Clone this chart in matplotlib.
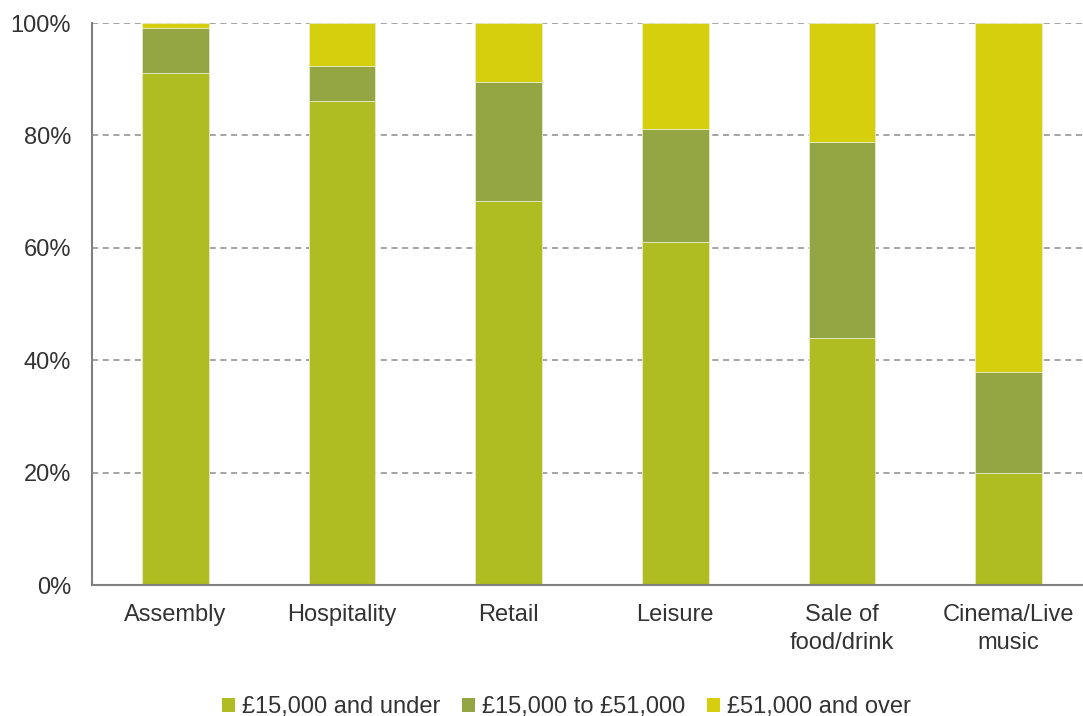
import matplotlib
matplotlib.use("Agg")
import matplotlib.pyplot as plt
from matplotlib.ticker import FuncFormatter
from matplotlib.patches import Patch
import numpy as np

categories = ["Assembly", "Hospitality", "Retail", "Leisure", "Sale of\nfood/drink", "Cinema/Live\nmusic"]
under_15k = [91.1, 86.1, 68.3, 61.0, 44.0, 19.9]
mid_15_51k = [8.0, 6.2, 21.2, 20.1, 34.8, 18.0]
over_51k = [100 - a - b for a, b in zip(under_15k, mid_15_51k)]
series_labels = ["£15,000 and under", "£15,000 to £51,000", "£51,000 and over"]
colors = ["#B0BD22", "#94A543", "#D5CF0D"]

plt.rcParams["font.family"] = ["Liberation Sans", "DejaVu Sans"]

fig = plt.figure(figsize=(10.83, 7.16), dpi=100)
ax = fig.add_axes([92 / 1083, 1 - 585 / 716, (1083 - 92) / 1083, (585 - 23) / 716])

x = np.arange(len(categories))
w = 0.40
bottom = np.zeros(len(categories))
for vals, c, lab in zip([under_15k, mid_15_51k, over_51k], colors, series_labels):
    ax.bar(x, vals, w, bottom=bottom, color=c, edgecolor="#E8EBC8", linewidth=0.6, label=lab, zorder=3)
    bottom += np.array(vals)

ax.set_xlim(-0.501, 5.447)
ax.set_ylim(0, 100)
ax.set_yticks(np.arange(0, 101, 20))
ax.yaxis.set_major_formatter(FuncFormatter(lambda v, p: f"{int(v)}%"))
ax.set_xticks(x)
ax.set_xticklabels(categories, linespacing=1.35)
ax.tick_params(axis="both", length=0, labelsize=17, colors="#333333")
ax.tick_params(axis="x", pad=14)
ax.tick_params(axis="y", pad=15)
ax.grid(axis="y", linestyle=(0, (4, 3)), color="#8C8C8C", linewidth=1.1, zorder=0)
for s in ["top", "right"]:
    ax.spines[s].set_visible(False)
for s in ["left", "bottom"]:
    ax.spines[s].set_color("#7F7F7F")
    ax.spines[s].set_linewidth(1.5)
    ax.spines[s].set_zorder(4)

handles = [Patch(facecolor=c, label=l) for c, l in zip(colors, series_labels)]
fig.legend(handles=handles, loc="center", bbox_to_anchor=(566.5 / 1083, 1 - 707 / 716), ncol=3,
           frameon=False, fontsize=17, handlelength=0.55, handleheight=0.55,
           handletextpad=0.3, columnspacing=0.9, labelcolor="#333333")

fig.savefig("out.png", dpi=100)
